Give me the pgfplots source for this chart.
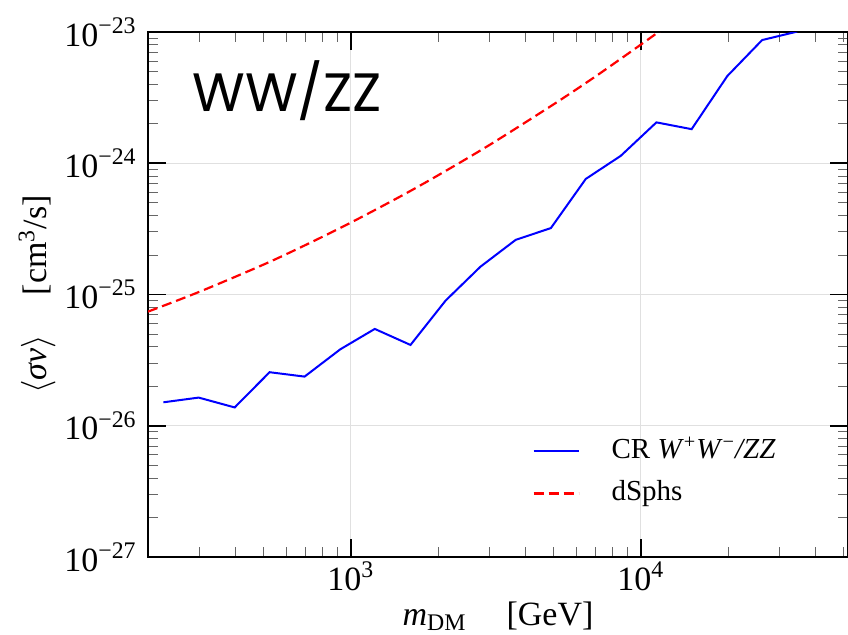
\documentclass[border=0pt]{standalone}
\usepackage{fontspec}
\setmainfont{Liberation Serif}
\newfontfamily\titlefont{Poppins}
\usepackage{pgfplots}
\pgfplotsset{compat=1.18}
\usetikzlibrary{calc}
\begin{document}
\begin{tikzpicture}
\begin{axis}[name=ax, scale only axis, width=350pt, height=262.5pt,
  xmode=log, ymode=log, xmin=200, xmax=51800, ymin=1e-27, ymax=1e-23,
  axis line style={line width=0.8pt},
  tick align=inside, xtick pos=both, ytick pos=both,
  major tick length=9pt, minor tick length=5pt,
  every major tick/.style={black, line width=0.8pt},
  every minor tick/.style={black!60, line width=0.5pt},
  grid=major, major grid style={black!12, line width=0.6pt},
  xtick={1000,10000}, xticklabels={10\textsuperscript{3},10\textsuperscript{4}},
  minor xtick={200,300,400,500,600,700,800,900,2000,3000,4000,5000,6000,7000,8000,9000,20000,30000,40000,50000},
  ytick={1e-27,1e-26,1e-25,1e-24,1e-23},
  yticklabels={10\textsuperscript{−27},10\textsuperscript{−26},10\textsuperscript{−25},10\textsuperscript{−24},10\textsuperscript{−23}},
  minor ytick={2e-27,3e-27,4e-27,5e-27,6e-27,7e-27,8e-27,9e-27,2e-26,3e-26,4e-26,5e-26,6e-26,7e-26,8e-26,9e-26,2e-25,3e-25,4e-25,5e-25,6e-25,7e-25,8e-25,9e-25,2e-24,3e-24,4e-24,5e-24,6e-24,7e-24,8e-24,9e-24},
  ticklabel style={font=\fontsize{17}{20}\selectfont},
  xticklabel style={anchor=base, yshift=-16.5pt},
  yticklabel style={anchor=east, inner sep=0pt, xshift=-5.5pt},
  xlabel={\textit{m}\textsubscript{DM}\hspace{20pt}[GeV]},
  xlabel style={at={(axis description cs:0.5,0)}, anchor=base, yshift=-34pt, font=\fontsize{17}{20}\selectfont},
  ylabel={$\langle$\textit{σv}$\rangle$\hspace{20pt}[cm\textsuperscript{3}/s]},
  ylabel style={at={(axis description cs:-0.1586,0.5)}, anchor=center, font=\fontsize{17}{20}\selectfont},
  legend style={draw=none, fill=none, at={(rel axis cs:0.540,0.238)}, anchor=north west,
    font=\fontsize{14.5}{17}\selectfont, column sep=16pt, row sep=6pt,
    nodes={inner sep=0pt, text height=11pt, text depth=4pt}},
  legend cell align=left,
  legend image code/.code={\draw[#1] (0pt,0pt) -- (22.5pt,0pt);},
]
\addplot[blue, line width=1pt] coordinates {
(226,1.51e-26) (299,1.64e-26) (398,1.38e-26) (525,2.56e-26) (693,2.37e-26)
(921,3.83e-26) (1210,5.47e-26) (1607,4.13e-26) (2123,8.99e-26) (2800,1.63e-25)
(3704,2.61e-25) (4898,3.21e-25) (6460,7.6e-25) (8530,1.14e-24) (11320,2.05e-24)
(14970,1.82e-24) (19870,4.62e-24) (26200,8.69e-24) (34100,1.0e-23) (45000,1.3e-23)
};
\addlegendentry{CR \textit{W}\textsuperscript{+}\textit{W}\textsuperscript{−}\textit{/ZZ}}
\addplot[red, line width=1.1pt, dash pattern=on 5pt off 2.5pt, smooth] coordinates {
(200,7.41e-26) (300,1.047e-25) (500,1.69e-25) (700,2.39e-25) (1000,3.53e-25)
(1500,5.67e-25) (2000,8.10e-25) (3000,1.374e-24) (5000,2.81e-24) (7000,4.61e-24)
(10000,8.02e-24) (12000,1.07e-23)
};
\addlegendentry{dSphs}
\node[anchor=base west, inner sep=0pt, font=\titlefont\fontsize{27}{30}\selectfont] at (rel axis cs:0.0629,0.8495) {WW/ZZ};
\end{axis}
\pgfresetboundingbox
\path[use as bounding box] ($(ax.south west)+(-74pt,-39pt)$) rectangle ($(ax.north east)+(0pt,16pt)$);
\end{tikzpicture}
\end{document}
